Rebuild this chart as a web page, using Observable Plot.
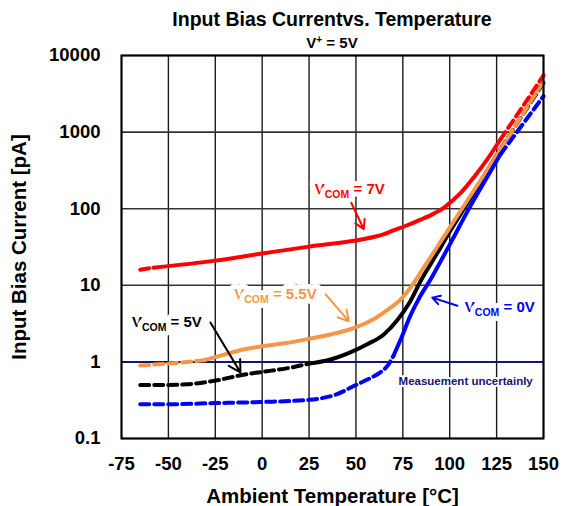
<!DOCTYPE html>
<html>
<head>
<meta charset="utf-8">
<script src="https://cdn.jsdelivr.net/npm/d3@7"></script>
<script src="https://cdn.jsdelivr.net/npm/@observablehq/plot@0.6"></script>
<style>
  html, body { margin: 0; padding: 0; background: #fff; }
  #wrap { position: relative; width: 567px; height: 506px; font-family: "Liberation Sans", Arial, sans-serif; font-weight: bold; color: #000; }
  #title { position: absolute; left: 121px; width: 422px; top: 10px; text-align: center; font-size: 19.5px; line-height: 19px; white-space: nowrap; }
  #subtitle { position: absolute; left: 121px; width: 422px; top: 35px; text-align: center; font-size: 15px; line-height: 15px; }
  #subtitle sup { font-size: 10px; vertical-align: 5px; line-height: 0; }
  #chart { position: absolute; left: 0; top: 0; }
</style>
</head>
<body>
<div id="wrap">
  <div id="chart"></div>
  <div id="title">Input Bias Currentvs. Temperature</div>
  <div id="subtitle">V<sup>+</sup> = 5V</div>
</div>
<script>
// ---- axis ticks ----
const xTicks = [-75, -50, -25, 0, 25, 50, 75, 100, 125, 150];
const yTicks = [0.1, 1, 10, 100, 1000, 10000];

// ---- series (temperature °C, input bias current pA) ----
const redTemp    = [-65, -58, -25, 0, 25, 50, 55, 60, 65, 70, 76, 84.5, 91, 97, 101, 106, 113, 120, 127, 138, 150];
const redCurrent = [16, 17, 21, 26, 32, 38.5, 40.5, 43, 46.5, 52, 59, 72, 85, 103, 125, 162, 260, 440, 800, 2000, 5500];
const redSolid   = [-58, 127];

const orangeTemp    = [-65, -50, -31, -20, -10, 0, 12, 25, 37, 47, 54, 61, 67, 74, 80, 85, 90, 95, 100, 110, 120, 127, 150];
const orangeCurrent = [0.9, 0.95, 1.05, 1.25, 1.45, 1.6, 1.75, 2.0, 2.3, 2.67, 3.1, 3.8, 4.8, 6.6, 10, 15.4, 23.7, 36.6, 56.5, 135, 320, 590, 4600];
const orangeSolid   = [-31, 127];

const blackTemp    = [-65, -50, -40, -25, -10, 0, 15, 25, 35, 47, 56, 65, 72, 79, 85, 90, 95, 100, 110, 120, 127, 150];
const blackCurrent = [0.5, 0.5, 0.51, 0.57, 0.68, 0.74, 0.84, 0.95, 1.05, 1.33, 1.7, 2.3, 3.5, 6.2, 12, 19.3, 30.8, 50, 124, 315, 600, 4400];
const blackSolid   = [25, 127];

const blueTemp    = [-65, -50, -25, 0, 25, 40, 50, 58, 63, 67, 70, 74, 79, 84, 90, 100, 111, 120, 127, 150];
const blueCurrent = [0.28, 0.28, 0.29, 0.3, 0.32, 0.38, 0.5, 0.62, 0.73, 0.9, 1.2, 2.0, 4.0, 7, 12.2, 34, 108, 260, 510, 2950];
const blueSolid   = [70, 127];

const uncertaintyLevel = [1];

// ---- annotations ----
const labelText  = ["VCOM = 7V", "VCOM = 5.5V", "VCOM = 5V", "VCOM = 0V"];
const labelColor = ["#ff0000", "#f79646", "#000000", "#0000ff"];
const labelTemp  = [46.7, 7.1, -50.8, 126.7];
const labelCurr  = [178, 7.6, 3.3, 5.15];
const arrowFromT = [47.1, 33.8, -27.6, 104.1];
const arrowFromI = [125, 7.6, 3.26, 5.4];
const arrowToT   = [54.2, 46.2, -11.6, 90.7];
const arrowToI   = [54, 3.4, 0.73, 6.9];
const noteText = ["Measuement uncertainly"];
const noteTemp = [108.5];
const noteCurr = [0.56];

// ---- build tables ----
function pts(T, I) { return T.map((t, i) => ({t, i: I[i]})); }
function parts(T, I, solid) {
  const p = pts(T, I);
  return {
    low: p.filter(d => d.t <= solid[0]),
    mid: p.filter(d => d.t >= solid[0] && d.t <= solid[1]),
    high: p.filter(d => d.t >= solid[1])
  };
}
const series = [
  {color: "#000000", ...parts(blackTemp, blackCurrent, blackSolid)},
  {color: "#f79646", ...parts(orangeTemp, orangeCurrent, orangeSolid)},
  {color: "#0000ff", ...parts(blueTemp, blueCurrent, blueSolid)},
  {color: "#ff0000", ...parts(redTemp, redCurrent, redSolid)}
];
const labels = labelText.map((s, k) => ({s, c: labelColor[k], t: labelTemp[k], i: labelCurr[k]}));
const arrows = labelText.map((s, k) => ({c: labelColor[k], t1: arrowFromT[k], i1: arrowFromI[k], t2: arrowToT[k], i2: arrowToI[k]}));
const notes = noteText.map((s, k) => ({s, t: noteTemp[k], i: noteCurr[k]}));

const lw = 4, dash = "9,5";
const curveMarks = [];
for (const s of series) {
  curveMarks.push(Plot.line(s.low, {x: "t", y: "i", stroke: s.color, strokeWidth: lw, strokeDasharray: dash, curve: "monotone-x"}));
  curveMarks.push(Plot.line(s.mid, {x: "t", y: "i", stroke: s.color, strokeWidth: lw, curve: "monotone-x"}));
  curveMarks.push(Plot.line(s.high, {x: "t", y: "i", stroke: s.color, strokeWidth: lw, strokeDasharray: dash, curve: "monotone-x"}));
}

const chart = Plot.plot({
  width: 567,
  height: 506,
  marginLeft: 121,
  marginRight: 24,
  marginTop: 55,
  marginBottom: 68,
  style: {fontFamily: "'Liberation Sans', Arial, sans-serif", fontSize: "18.5px", fontWeight: "bold", color: "#000", background: "transparent"},
  x: {domain: [-75, 150]},
  y: {type: "log", domain: [0.1, 10000]},
  marks: [
    Plot.gridX(xTicks, {stroke: "#000", strokeOpacity: 0.9, strokeWidth: 1.4}),
    Plot.gridY(yTicks, {stroke: "#333", strokeOpacity: 1, strokeWidth: 1.6}),
    Plot.ruleY(uncertaintyLevel, {stroke: "#15156e", strokeWidth: 2}),
    Plot.text(notes, {x: "t", y: "i", text: "s", fill: "#15156e", fontSize: 11.5, fontWeight: "bold", stroke: "white", strokeWidth: 4}),
    ...curveMarks,
    Plot.arrow(arrows, {x1: "t1", y1: "i1", x2: "t2", y2: "i2", stroke: "c", strokeWidth: 2, headLength: 10}),
    Plot.text(labels, {x: "t", y: "i", text: "s", fill: "c", fontSize: 15, fontWeight: "bold", stroke: "white", strokeWidth: 10}),
    Plot.frame({stroke: "#000", strokeWidth: 2}),
    Plot.axisX({ticks: xTicks, tickFormat: d => String(d), tickSize: 0, tickPadding: 18, label: "Ambient Temperature [°C]", labelAnchor: "center", labelArrow: "none", labelOffset: 64, fontSize: 18.5, fontWeight: "bold"}),
    Plot.axisY({ticks: yTicks, tickFormat: d => String(d), tickSize: 0, tickPadding: 21, label: "Input Bias Current [pA]", labelAnchor: "center", labelArrow: "none", labelOffset: 110, fontSize: 18.5, fontWeight: "bold"})
  ]
});

// larger axis titles
d3.select(chart).selectAll('g[aria-label="x-axis label"], g[aria-label="y-axis label"]').attr("font-size", 20.5);

// subscript "COM" in the curve labels
d3.select(chart).selectAll("text").each(function () {
  const t = this.textContent;
  if (t.startsWith("VCOM")) {
    const sel = d3.select(this);
    sel.text(null);
    sel.append("tspan").text("V");
    sel.append("tspan").attr("font-size", 10.5).attr("dy", 4).text("COM");
    sel.append("tspan").attr("dy", -4).text(t.slice(4));
  }
});

document.getElementById("chart").appendChild(chart);
</script>
</body>
</html>
